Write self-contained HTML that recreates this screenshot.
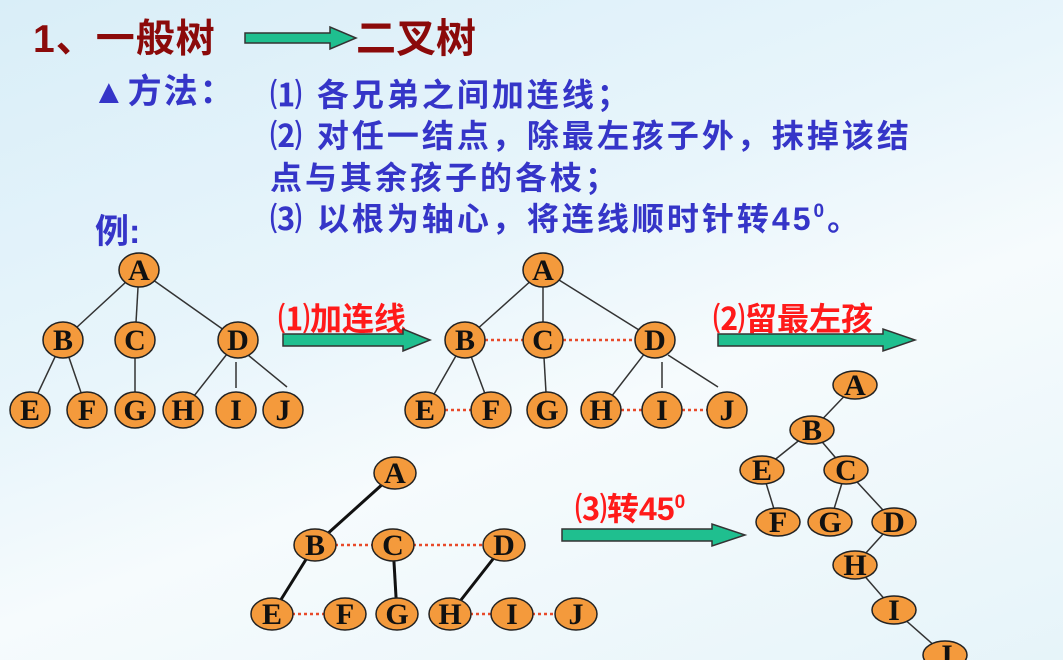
<!DOCTYPE html>
<html><head><meta charset="utf-8"><style>
body{margin:0;width:1063px;height:660px;overflow:hidden;background:linear-gradient(160deg,#d9eef8 0%,#e8f5fb 40%,#f6fbfd 60%,#e6f4f9 100%);}
svg{position:absolute;left:0;top:0}
.t{font-family:"Liberation Sans","Noto Sans CJK SC",sans-serif;font-weight:bold}
.n{font-family:"Liberation Serif",serif;font-weight:bold;font-size:30px}
</style></head><body>
<svg width="1063" height="660" viewBox="0 0 1063 660">
<text class="t" x="33" y="52" font-size="39" fill="#8b0a0a" letter-spacing="1">1、一般树</text>
<polygon points="245,33 330,33 330,27 356,38 330,49 330,43 245,43" fill="#1fbf8f" stroke="#333" stroke-width="1.5"/>
<text class="t" x="356" y="52" font-size="40" fill="#8b0a0a">二叉树</text>
<g class="t" fill="#3535c8">
<text x="92" y="103" font-size="34" letter-spacing="2">▲方法：</text>
<text x="270" y="106" font-size="32" letter-spacing="3">⑴ 各兄弟之间加连线；</text>
<text x="270" y="147" font-size="32" letter-spacing="3">⑵ 对任一结点，除最左孩子外，抹掉该结</text>
<text x="270" y="189" font-size="32" letter-spacing="3">点与其余孩子的各枝；</text>
<text x="270" y="230" font-size="32" letter-spacing="3">⑶ 以根为轴心，将连线顺时针转45<tspan font-size="19" dy="-13">0</tspan><tspan dy="13">。</tspan></text>
<text x="95" y="243" font-size="34">例:</text>
</g>
<g class="t" fill="#ff1a1a" font-size="32">
<text x="278" y="330">⑴加连线</text>
<text x="713" y="330">⑵留最左孩</text>
<text x="575" y="520">⑶转45<tspan font-size="19" dy="-12">0</tspan></text>
</g>
<g transform="translate(283,340)"><polygon points="0,-6 120,-6 120,-11 147,0 120,11 120,6 0,6" fill="#1fbf8f" stroke="#333" stroke-width="1.5"/></g>
<g transform="translate(718,340)"><polygon points="0,-6 165,-6 165,-11 197,0 165,11 165,6 0,6" fill="#1fbf8f" stroke="#333" stroke-width="1.5"/></g>
<g transform="translate(562,535)"><polygon points="0,-6 150,-6 150,-11 183,0 150,11 150,6 0,6" fill="#1fbf8f" stroke="#333" stroke-width="1.5"/></g>

<g stroke="#333" stroke-width="1.5">
<line x1="139" y1="270" x2="63" y2="340"/><line x1="139" y1="270" x2="135" y2="340"/><line x1="139" y1="270" x2="238" y2="340"/>
<line x1="63" y1="340" x2="30" y2="410"/><line x1="63" y1="340" x2="87" y2="410"/><line x1="135" y1="340" x2="135" y2="410"/>
<line x1="238" y1="340" x2="183" y2="410"/><line x1="236" y1="362" x2="236" y2="388"/><line x1="248" y1="355" x2="287" y2="387"/>
<line x1="543" y1="270" x2="465" y2="340"/><line x1="543" y1="270" x2="543" y2="340"/><line x1="543" y1="270" x2="655" y2="340"/>
<line x1="465" y1="340" x2="425" y2="410"/><line x1="465" y1="340" x2="491" y2="410"/><line x1="543" y1="340" x2="547" y2="410"/>
<line x1="655" y1="340" x2="601" y2="410"/><line x1="662" y1="362" x2="662" y2="388"/><line x1="668" y1="355" x2="718" y2="387"/>
<line x1="855" y1="385" x2="812" y2="430"/><line x1="812" y1="430" x2="762" y2="470"/><line x1="812" y1="430" x2="846" y2="470"/>
<line x1="762" y1="470" x2="778" y2="522"/><line x1="846" y1="470" x2="830" y2="522"/><line x1="846" y1="470" x2="894" y2="522"/>
<line x1="894" y1="522" x2="855" y2="565"/><line x1="855" y1="565" x2="894" y2="610"/><line x1="894" y1="610" x2="945" y2="655"/>
</g>
<g stroke="#111" stroke-width="3">
<line x1="395" y1="473" x2="315" y2="545"/><line x1="315" y1="545" x2="272" y2="614"/><line x1="393" y1="545" x2="397" y2="614"/><line x1="504" y1="545" x2="450" y2="614"/>
</g>
<g stroke="#e84a2a" stroke-width="2.5" stroke-dasharray="3,3">
<line x1="485" y1="340" x2="523" y2="340"/><line x1="563" y1="340" x2="635" y2="340"/>
<line x1="445" y1="410" x2="471" y2="410"/><line x1="621" y1="410" x2="642" y2="410"/><line x1="682" y1="410" x2="707" y2="410"/>
<line x1="335" y1="545" x2="373" y2="545"/><line x1="413" y1="545" x2="484" y2="545"/>
<line x1="292" y1="614" x2="325" y2="614"/><line x1="470" y1="614" x2="492" y2="614"/><line x1="532" y1="614" x2="556" y2="614"/>
</g>
<g fill="#f49a3c" stroke="#222" stroke-width="1.5">
<ellipse cx="139" cy="270" rx="20" ry="17"/><ellipse cx="63" cy="340" rx="20" ry="18"/><ellipse cx="135" cy="340" rx="20" ry="18"/><ellipse cx="238" cy="340" rx="20" ry="18"/>
<ellipse cx="30" cy="410" rx="20" ry="18"/><ellipse cx="87" cy="410" rx="20" ry="18"/><ellipse cx="135" cy="410" rx="20" ry="18"/><ellipse cx="183" cy="410" rx="20" ry="18"/><ellipse cx="236" cy="410" rx="20" ry="18"/><ellipse cx="283" cy="410" rx="20" ry="18"/>
<ellipse cx="543" cy="270" rx="20" ry="17"/><ellipse cx="465" cy="340" rx="20" ry="18"/><ellipse cx="543" cy="340" rx="20" ry="18"/><ellipse cx="655" cy="340" rx="20" ry="18"/>
<ellipse cx="425" cy="410" rx="20" ry="18"/><ellipse cx="491" cy="410" rx="20" ry="18"/><ellipse cx="547" cy="410" rx="20" ry="18"/><ellipse cx="601" cy="410" rx="20" ry="18"/><ellipse cx="662" cy="410" rx="20" ry="18"/><ellipse cx="727" cy="410" rx="20" ry="18"/>
<ellipse cx="395" cy="473" rx="21" ry="16"/><ellipse cx="315" cy="545" rx="21" ry="16"/><ellipse cx="393" cy="545" rx="21" ry="16"/><ellipse cx="504" cy="545" rx="21" ry="16"/>
<ellipse cx="272" cy="614" rx="21" ry="16"/><ellipse cx="345" cy="614" rx="21" ry="16"/><ellipse cx="397" cy="614" rx="21" ry="16"/><ellipse cx="450" cy="614" rx="21" ry="16"/><ellipse cx="512" cy="614" rx="21" ry="16"/><ellipse cx="576" cy="614" rx="21" ry="16"/>
<ellipse cx="855" cy="385" rx="22" ry="14"/><ellipse cx="812" cy="430" rx="22" ry="14"/><ellipse cx="762" cy="470" rx="22" ry="14"/><ellipse cx="846" cy="470" rx="22" ry="14"/>
<ellipse cx="778" cy="522" rx="22" ry="14"/><ellipse cx="830" cy="522" rx="22" ry="14"/><ellipse cx="894" cy="522" rx="22" ry="14"/>
<ellipse cx="855" cy="565" rx="22" ry="14"/><ellipse cx="894" cy="610" rx="22" ry="14"/><ellipse cx="945" cy="655" rx="22" ry="14"/>
</g>
<g class="n" fill="#111" text-anchor="middle">
<text x="139" y="280">A</text><text x="63" y="350">B</text><text x="135" y="350">C</text><text x="238" y="350">D</text>
<text x="30" y="420">E</text><text x="87" y="420">F</text><text x="135" y="420">G</text><text x="183" y="420">H</text><text x="236" y="420">I</text><text x="283" y="420">J</text>
<text x="543" y="280">A</text><text x="465" y="350">B</text><text x="543" y="350">C</text><text x="655" y="350">D</text>
<text x="425" y="420">E</text><text x="491" y="420">F</text><text x="547" y="420">G</text><text x="601" y="420">H</text><text x="662" y="420">I</text><text x="727" y="420">J</text>
<text x="395" y="483">A</text><text x="315" y="555">B</text><text x="393" y="555">C</text><text x="504" y="555">D</text>
<text x="272" y="624">E</text><text x="345" y="624">F</text><text x="397" y="624">G</text><text x="450" y="624">H</text><text x="512" y="624">I</text><text x="576" y="624">J</text>
<text x="855" y="395">A</text><text x="812" y="440">B</text><text x="762" y="480">E</text><text x="846" y="480">C</text>
<text x="778" y="532">F</text><text x="830" y="532">G</text><text x="894" y="532">D</text><text x="855" y="575">H</text><text x="894" y="620">I</text><text x="945" y="665">J</text>
</g>
</svg>
</body></html>
